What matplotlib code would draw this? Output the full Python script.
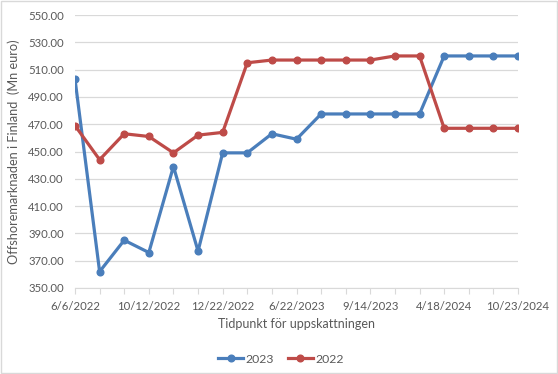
import matplotlib.pyplot as plt
import numpy as np
from matplotlib.patches import Rectangle

# data
tick_labels = ["6/6/2022", "10/12/2022", "12/22/2022", "6/22/2023",
               "9/14/2023", "4/18/2024", "10/23/2024"]
series_2023 = [503, 362, 385, 376, 439, 377, 449, 449, 463, 459,
               477.5, 477.5, 477.5, 477.5, 477.5, 520, 520, 520, 520]
series_2022 = [469, 444, 463, 461, 449, 462, 464, 515, 517, 517,
               517, 517, 517, 520, 520, 467, 467, 467, 467]

plt.rcParams["font.family"] = ["Lato", "DejaVu Sans"]
grey = "#595959"

fig = plt.figure(figsize=(5.58, 3.74), dpi=100)
ax = fig.add_axes([75 / 558, 1 - 288 / 374, (518 - 75) / 558, (288 - 15) / 374])

x = np.arange(len(series_2023))
ax.plot(x, series_2023, color="#4a7ebb", lw=2.3, marker="o", ms=4.8, label="2023", zorder=3)
ax.plot(x, series_2022, color="#be4b48", lw=2.3, marker="o", ms=4.8, label="2022", zorder=3)

ax.set_xlim(0, len(x) - 1)
ax.set_ylim(350, 550)
ax.set_yticks(np.arange(350, 551, 20))
ax.yaxis.set_major_formatter(plt.FuncFormatter(lambda v, p: f"{v:.2f}"))
ax.grid(axis="y", color="#d9d9d9", lw=0.9)
ax.set_axisbelow(True)

ax.set_xticks(x)
ax.set_xticklabels([tick_labels[i // 3] if i % 3 == 0 else "" for i in x])
ax.tick_params(axis="x", length=4, color="#d9d9d9", colors=grey, labelsize=8.2, pad=5)
ax.tick_params(axis="y", length=0, colors=grey, labelsize=8.2, pad=8)

for side in ["left", "right", "top"]:
    ax.spines[side].set_visible(False)
ax.spines["bottom"].set_color("#d9d9d9")

ax.set_xlabel("Tidpunkt för uppskattningen", color=grey, fontsize=9, labelpad=5)
ax.set_ylabel("Offshoremarknaden i Finland  (Mn euro)", color=grey, fontsize=9.2, labelpad=6)

ax.legend(loc="upper center", bbox_to_anchor=(0.465, -0.20), ncol=2, frameon=False,
          fontsize=8.8, labelcolor=grey, handlelength=2.0, handletextpad=0.2,
          columnspacing=1.2)

fig.patches.append(Rectangle((0.002, 0.003), 0.996, 0.994, transform=fig.transFigure,
                             fill=False, edgecolor="#d9d9d9", lw=1))

fig.savefig("out.png", dpi=100)
